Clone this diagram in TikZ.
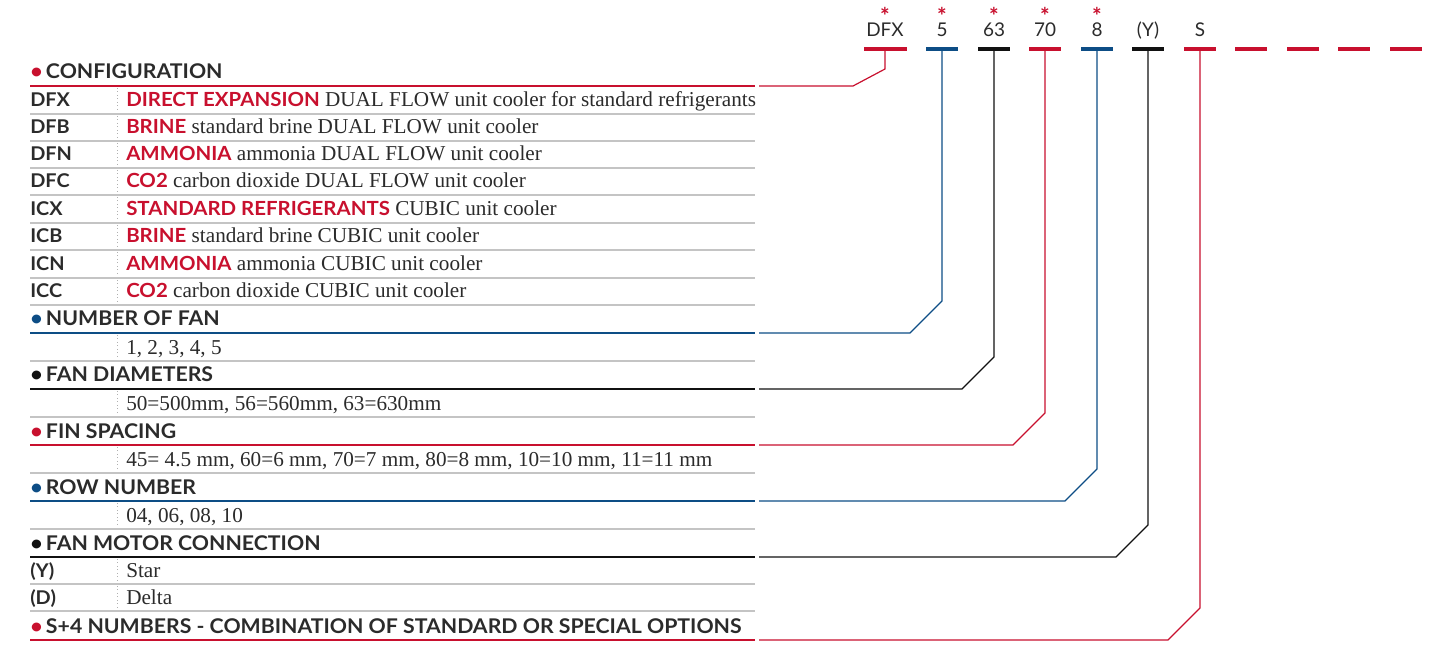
\documentclass[tikz,border=0pt]{standalone}
\usepackage{fontspec}
\setmainfont{Liberation Serif}
\newfontfamily\sansf[FakeStretch=1.05]{Lato}
\newfontfamily\sanstop{Lato}
\definecolor{rd}{HTML}{C8102E}
\definecolor{bl}{HTML}{0D4D85}
\definecolor{bk}{HTML}{111111}
\definecolor{tx}{HTML}{2B2B2B}
\definecolor{gr}{HTML}{C4C4C4}
\definecolor{dt}{HTML}{B0B0B0}
\begin{document}
\begin{tikzpicture}[x=0.75pt,y=-0.75pt,
  hdr/.style={anchor=base west,inner sep=0pt,text=tx,font=\sansf\bfseries\fontsize{15.2pt}{16pt}\selectfont},
  code/.style={anchor=base west,inner sep=0pt,text=tx,font=\sansf\bfseries\fontsize{14.2pt}{16pt}\selectfont},
  desc/.style={anchor=base west,inner sep=0pt,text=tx,font=\fontsize{15.9pt}{17pt}\selectfont},
  topc/.style={anchor=base,inner sep=0pt,text=tx,font=\sanstop\fontsize{14.2pt}{16pt}\selectfont},
  star/.style={anchor=base,inner sep=0pt,text=rd,text height=0.75em,text depth=-0.4em,font=\sanstop\bfseries\fontsize{17pt}{17pt}\selectfont},
  grl/.style={draw=gr,line width=1.1pt},
  sep/.style={draw=dt,line width=0.6pt,dotted},
  bar/.style={line width=3pt},
  conn/.style={line width=0.9pt},
  rule/.style={line width=1.7pt}]
\useasboundingbox (0,0) rectangle (1434,648);
\newcommand{\rw}[1]{{\sansf\bfseries\fontsize{14.6pt}{16pt}\selectfont\textcolor{rd}{#1}}}

% ---------- top code ----------
\node[topc] (c1) at (885,37) {DFX};
\node[topc] (c2) at (942,37) {5};
\node[topc] (c3) at (994,37) {63};
\node[topc] (c4) at (1045,37) {70};
\node[topc] (c5) at (1097,37) {8};
\node[topc] (c6) at (1148,37) {(Y)};
\node[topc] (c7) at (1200,37) {S};
\foreach \x/\n in {885/1,942/2,994/3,1045/4,1097/5}{
  \node[star] (s\n) at (\x,25) {*};
}
\draw[bar,rd] (864,49) -- (907,49);
\draw[bar,bl] (926,49) -- (958,49);
\draw[bar,bk] (978,49) -- (1010,49);
\draw[bar,rd] (1029,49) -- (1061,49);
\draw[bar,bl] (1081,49) -- (1113,49);
\draw[bar,bk] (1132,49) -- (1164,49);
\draw[bar,rd] (1184,49) -- (1216,49);
\foreach \x in {1235,1287,1338,1390}{\draw[bar,rd] (\x,49) -- ++(32,0);}
\foreach \x/\n in {885/1,942/2,994/3,1045/4,1097/5,1148/6,1200/7}{
  \coordinate (b\n) at (\x,50);
}

% ---------- gray row lines ----------
\foreach \y in {114,141,168,195,223,250,278,305,361,417,473,529,584,611}{
  \draw[grl] (30,\y) -- (755,\y);
}
% dotted separators
\foreach \a/\b in {88/112,116/139,143/166,170/193,197/221,225/248,252/276,280/303,335/359,391/415,447/471,503/527,559/582,586/609}{
  \draw[sep] (117,\a) -- (117,\b);
}

% ---------- headers ----------
\node[hdr] (h1) at (30,79) {\textcolor{rd}{•}\,CONFIGURATION};
\node[hdr] (h2) at (30,326) {\textcolor{bl}{•}\,NUMBER OF FAN};
\node[hdr] (h3) at (30,382) {\textcolor{bk}{•}\,FAN DIAMETERS};
\node[hdr] (h4) at (30,438) {\textcolor{rd}{•}\,FIN SPACING};
\node[hdr] (h5) at (30,494) {\textcolor{bl}{•}\,ROW NUMBER};
\node[hdr] (h6) at (30,550) {\textcolor{bk}{•}\,FAN MOTOR CONNECTION};
\node[hdr] (h7) at (30,633) {\textcolor{rd}{•}\,S+4 NUMBERS - COMBINATION OF STANDARD OR SPECIAL OPTIONS};

\draw[rule,rd] (30,86) -- (755,86);
\draw[rule,bl] (30,333) -- (755,333);
\draw[rule,bk] (30,389) -- (755,389);
\draw[rule,rd] (30,445) -- (755,445);
\draw[rule,bl] (30,501) -- (755,501);
\draw[rule,bk] (30,557) -- (755,557);
\draw[rule,rd] (30,640) -- (755,640);

% ---------- rows ----------
\node[code] (k1) at (30,107) {DFX};
\node[desc] (d1) at (126,107) {\rw{DIRECT EXPANSION} DUAL FLOW unit cooler for standard refrigerants};
\node[code] (k2) at (30,134) {DFB};
\node[desc] (d2) at (126,134) {\rw{BRINE} standard brine DUAL FLOW unit cooler};
\node[code] (k3) at (30,161) {DFN};
\node[desc] (d3) at (126,161) {\rw{AMMONIA} ammonia DUAL FLOW unit cooler};
\node[code] (k4) at (30,188) {DFC};
\node[desc] (d4) at (126,188) {\rw{CO2} carbon dioxide DUAL FLOW unit cooler};
\node[code] (k5) at (30,216) {ICX};
\node[desc] (d5) at (126,216) {\rw{STANDARD REFRIGERANTS} CUBIC unit cooler};
\node[code] (k6) at (30,243) {ICB};
\node[desc] (d6) at (126,243) {\rw{BRINE} standard brine CUBIC unit cooler};
\node[code] (k7) at (30,271) {ICN};
\node[desc] (d7) at (126,271) {\rw{AMMONIA} ammonia CUBIC unit cooler};
\node[code] (k8) at (30,298) {ICC};
\node[desc] (d8) at (126,298) {\rw{CO2} carbon dioxide CUBIC unit cooler};

\node[desc] (d9) at (126,354) {1, 2, 3, 4, 5};
\node[desc] (d10) at (126,410) {50=500mm, 56=560mm, 63=630mm};
\node[desc] (d11) at (126,466) {45= 4.5 mm, 60=6 mm, 70=7 mm, 80=8 mm, 10=10 mm, 11=11 mm};
\node[desc] (d12) at (126,522) {04, 06, 08, 10};
\node[code] (k13) at (30,577) {(Y)};
\node[desc] (d13) at (126,577) {Star};
\node[code] (k14) at (30,604) {(D)};
\node[desc] (d14) at (126,604) {Delta};

% ---------- connectors ----------
\coordinate (e1) at (759,86);
\coordinate (e2) at (759,333);
\coordinate (e3) at (759,389);
\coordinate (e4) at (759,445);
\coordinate (e5) at (759,501);
\coordinate (e6) at (759,557);
\coordinate (e7) at (759,640);
\draw[conn,rd] (e1) -- (853,86) -- (885,69) -- (b1);
\draw[conn,bl] (e2) -- (910,333) -- (942,301) -- (b2);
\draw[conn,bk] (e3) -- (962,389) -- (994,357) -- (b3);
\draw[conn,rd] (e4) -- (1013,445) -- (1045,413) -- (b4);
\draw[conn,bl] (e5) -- (1065,501) -- (1097,469) -- (b5);
\draw[conn,bk] (e6) -- (1116,557) -- (1148,525) -- (b6);
\draw[conn,rd] (e7) -- (1168,640) -- (1200,608) -- (b7);
\end{tikzpicture}
\end{document}
